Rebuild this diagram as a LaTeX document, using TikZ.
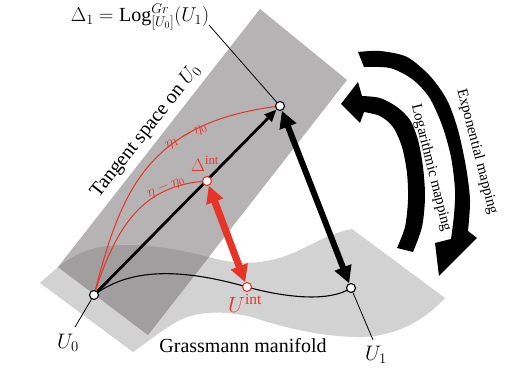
\RequirePackage{fix-cm}
\documentclass[tikz,border=0pt]{standalone}
\usepackage{fontspec}
\setmainfont{Liberation Serif}
\usetikzlibrary{arrows.meta}
\pgfdeclarelayer{back}
\pgfdeclarelayer{mid}
\pgfsetlayers{back,mid,main}
\definecolor{planeC}{RGB}{181,179,180}
\definecolor{maniC}{RGB}{211,210,210}
\definecolor{overC}{RGB}{160,158,159}
\definecolor{redC}{RGB}{232,52,38}
\tikzset{
  pt/.style={circle, draw=black, fill=white, line width=1.1pt, minimum size=9pt, inner sep=0pt},
  rpt/.style={pt, draw=redC},
  lbl/.style={inner sep=0pt},
  fs/.style={font=\fontsize{#1}{#1}\selectfont},
  leader/.style={line width=0.8pt},
  geo/.style={line width=1.1pt},
  redcurve/.style={redC, line width=1pt},
  bigarrow/.style={line width=6pt, {Triangle[length=17pt,width=17pt]}-{Triangle[length=17pt,width=17pt]}},
  mainarrow/.style={line width=2.8pt, -{Triangle[length=12pt,width=10pt]}},
}
\begin{document}
\begin{tikzpicture}[x=1pt,y=-1pt]
\useasboundingbox (0,0) rectangle (523,371);
\def\maniPath{(40,283) -- (58,267) .. controls (80,250) and (100,245) .. (125,245) .. controls (160,245) and (190,252) .. (220,260) .. controls (250,266) and (275,262) .. (300,250) .. controls (320,240) and (335,232) .. (352,229) -- (445,298) .. controls (425,320) and (395,338) .. (355,337) .. controls (320,336) and (285,328) .. (255,318) .. controls (230,311) and (200,310) .. (180,320) .. controls (165,328) and (150,340) .. (133,352) -- cycle}
\def\planePath{(260,9) -- (347,80) -- (148,335) -- (58,267) -- cycle}
\begin{pgfonlayer}{back}
\fill[maniC] \maniPath;
\fill[planeC] \planePath;
\begin{scope}
\clip \maniPath;
\fill[overC] \planePath;
\end{scope}
\end{pgfonlayer}

% points
\node[pt] (U0) at (94,295) {};
\node[pt] (D1) at (280,106) {};
\node[rpt] (Dint) at (207,181) {};
\node[rpt] (Uint) at (247,287) {};
\node[pt] (U1) at (351,288) {};

% labels
\node[lbl, fs=20] (lD1) at (140,17) {$\Delta_1 = \mathrm{Log}^{Gr}_{[U_0]}(U_1)$};
\coordinate (d1a) at (209,25);
\node[lbl, fs=20, rotate=51.6] (lTan) at (146,131) {Tangent space on $U_0$};
\node[lbl, fs=15, text=redC, rotate=25] (lEta1) at (186,136) {$\eta_1-\eta_0$};
\node[lbl, fs=15, text=redC, rotate=22] (lEta) at (166,187) {$\eta-\eta_0$};
\node[lbl, fs=18, text=redC] (lDint) at (205,164) {$\Delta^{\mathrm{int}}$};
\node[lbl, fs=22, text=redC] (lUint) at (245,303) {$U^{\mathrm{int}}$};
\node[lbl, fs=21] (lU0) at (68,343) {$U_0$};
\coordinate (u0a) at (75,327);
\node[lbl, fs=21] (lU1) at (376,355) {$U_1$};
\coordinate (u1a) at (373,340);
\node[lbl, fs=20] (lGr) at (243,346) {Grassmann manifold};

\begin{pgfonlayer}{mid}
\draw[geo] (U0.center) .. controls (125,272) and (170,265) .. (Uint.center) .. controls (287,298) and (330,302) .. (U1.center);
\draw[redcurve] (U0.center) .. controls (120,195) and (145,122) .. (D1.center);
\draw[redcurve] (U0.center) .. controls (115,230) and (140,185) .. (Dint.center);
\draw[mainarrow] (U0) -- (D1);
\draw[leader] (d1a) -- (D1);
\draw[leader] (U0) -- (u0a);
\draw[leader] (U1) -- (u1a);
\draw[bigarrow] (D1) -- (U1);
\draw[bigarrow, redC, line width=7pt] (Dint) -- (Uint);
\end{pgfonlayer}

% mapping arrows
\fill plot[smooth] coordinates {(358,52) (380,51) (407,57) (430,76) (447,100) (458,130) (466,167) (470,200) (468,231)} -- (477,238) -- (439,276) -- (435,243) -- plot[smooth] coordinates {(451,239) (454,215) (455,190) (451,157) (442,125) (429,97) (412,79) (390,68) (364,67)} -- cycle;
\fill (341,104) -- (358,82) -- (362,96) -- plot[smooth] coordinates {(362,96) (380,98) (397,107) (410,120) (418,140) (423,167) (425,197) (422,227) (413,252)} -- (397,248) -- plot[smooth] coordinates {(397,248) (405,227) (408,200) (407,173) (402,147) (393,127) (380,116) (364,112)} -- (360,123) -- cycle;
\node[lbl, fs=15, rotate=-75.5] (lExp) at (477,152) {Exponential mapping};
\node[lbl, fs=15, rotate=-76] (lLog) at (431,168) {Logarithmic mapping};
\end{tikzpicture}
\end{document}
